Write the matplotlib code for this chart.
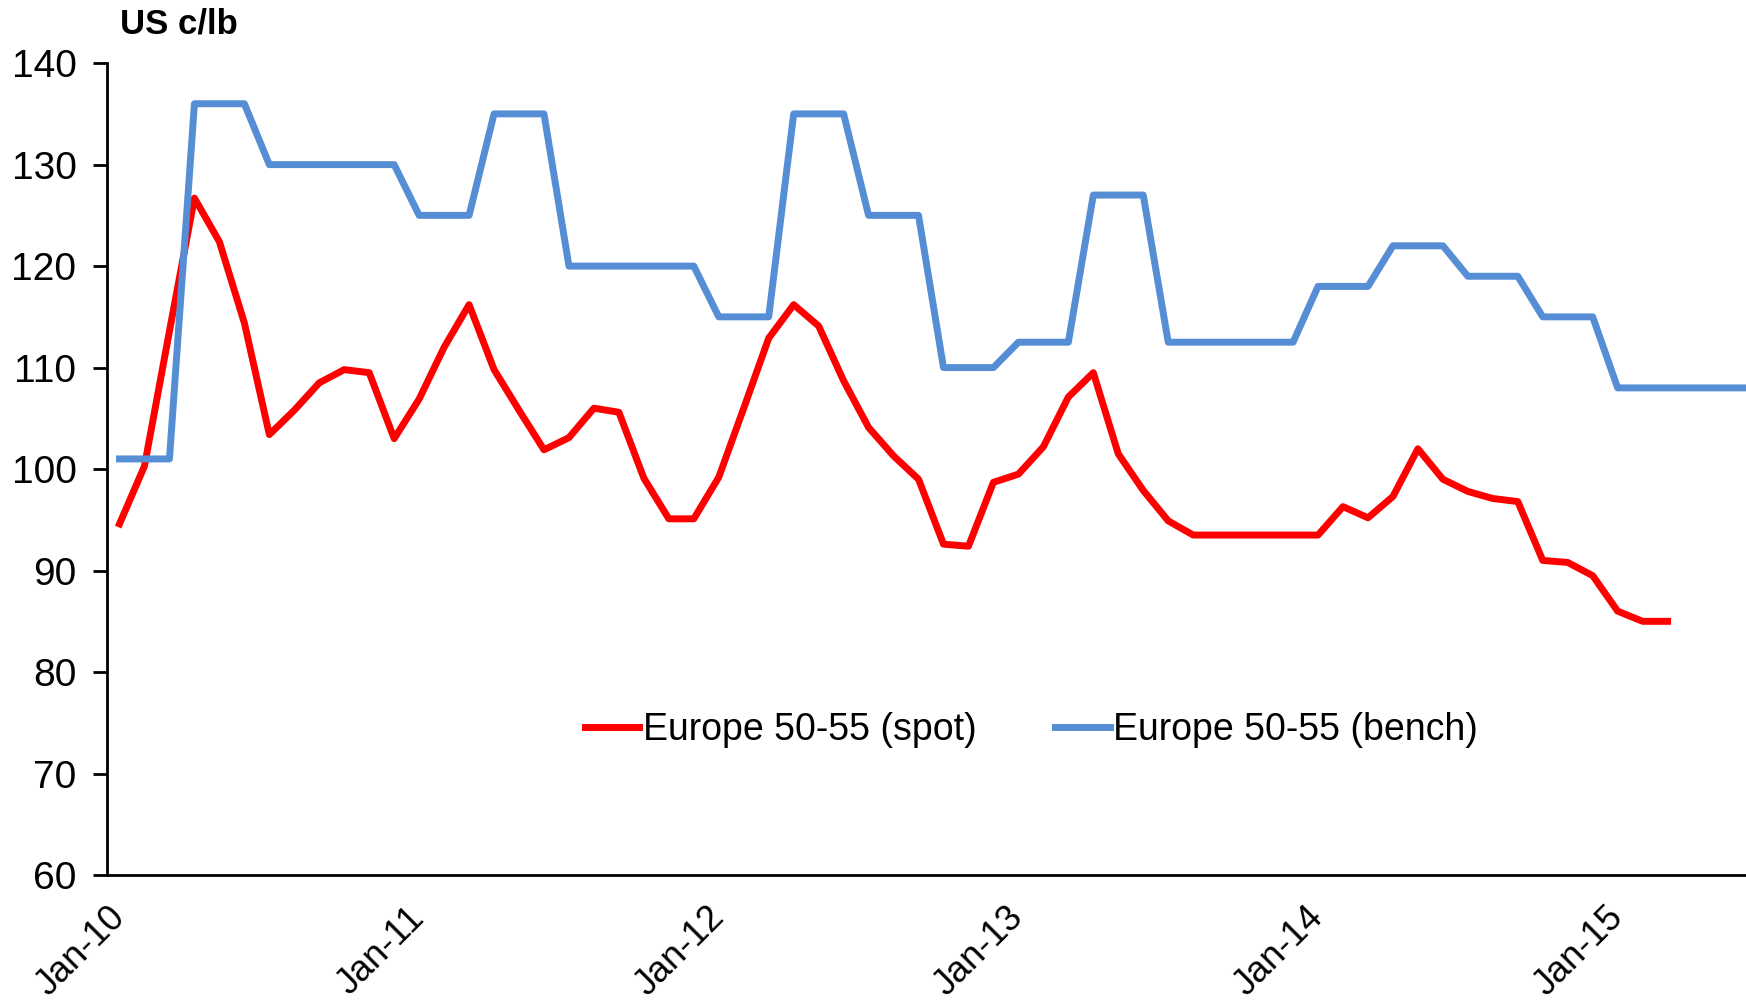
import matplotlib.pyplot as plt

plt.rcParams['font.family'] = ['Liberation Sans', 'DejaVu Sans']

# monthly data, Jan-10 onwards
spot = [94.6, 100.3, 113.6, 126.7, 122.4, 114.4, 103.4, 105.8, 108.5, 109.8,
        109.5, 103.0, 106.9, 112.0, 116.2, 109.8, 105.8, 101.9, 103.1, 106.0,
        105.6, 99.1, 95.1, 95.1, 99.2, 106.0, 112.9, 116.2, 114.1, 108.7,
        104.1, 101.3, 99.0, 92.6, 92.4, 98.7, 99.5, 102.2, 107.1, 109.5,
        101.5, 97.9, 94.9, 93.5, 93.5, 93.5, 93.5, 93.5, 93.5, 96.3,
        95.2, 97.3, 102.0, 99.0, 97.8, 97.1, 96.8, 91.0, 90.8, 89.5,
        86.0, 85.0, 85.0]
bench = [101, 101, 101, 136, 136, 136, 130, 130, 130, 130,
         130, 130, 125, 125, 125, 135, 135, 135, 120, 120,
         120, 120, 120, 120, 115, 115, 115, 135, 135, 135,
         125, 125, 125, 110, 110, 110, 112.5, 112.5, 112.5, 127,
         127, 127, 112.5, 112.5, 112.5, 112.5, 112.5, 112.5, 118, 118,
         118, 122, 122, 122, 119, 119, 119, 115, 115, 115,
         108, 108, 108, 108, 108, 108]
tick_labels = ['Jan-10', 'Jan-11', 'Jan-12', 'Jan-13', 'Jan-14', 'Jan-15']

fig = plt.figure(figsize=(17.46, 10.02), dpi=100)
ax = fig.add_axes([0.0613, 0.1267, 0.9387, 0.8103])

ax.plot(range(len(spot)), spot, color='#FF0000', lw=5, label='Europe 50-55 (spot)')
ax.plot(range(len(bench)), bench, color='#558ED5', lw=5, label='Europe 50-55 (bench)')

ax.set_ylim(60, 140)
ax.set_yticks(range(60, 141, 10))
ax.set_xlim(-0.5, 65.14)
ax.set_xticks([i * 12 - 0.5 for i in range(len(tick_labels))])
ax.set_xticklabels(tick_labels, rotation=45, ha='right', va='top', rotation_mode='anchor')

for s in ['top', 'right']:
    ax.spines[s].set_visible(False)
for s in ['left', 'bottom']:
    ax.spines[s].set_linewidth(2)
ax.tick_params(axis='y', labelsize=28, length=10, width=2, pad=12, direction='out')
ax.tick_params(axis='x', labelsize=26, length=0, pad=18)

fig.text(0.069, 0.9756, 'US c/lb', fontsize=25, fontweight='bold', va='center')

ax.legend(loc='center', bbox_to_anchor=(0.564, 0.179), ncol=2, frameon=False,
          fontsize=27, handlelength=1.45, handletextpad=0.1, columnspacing=2.1)

fig.savefig('out.png', dpi=100)
